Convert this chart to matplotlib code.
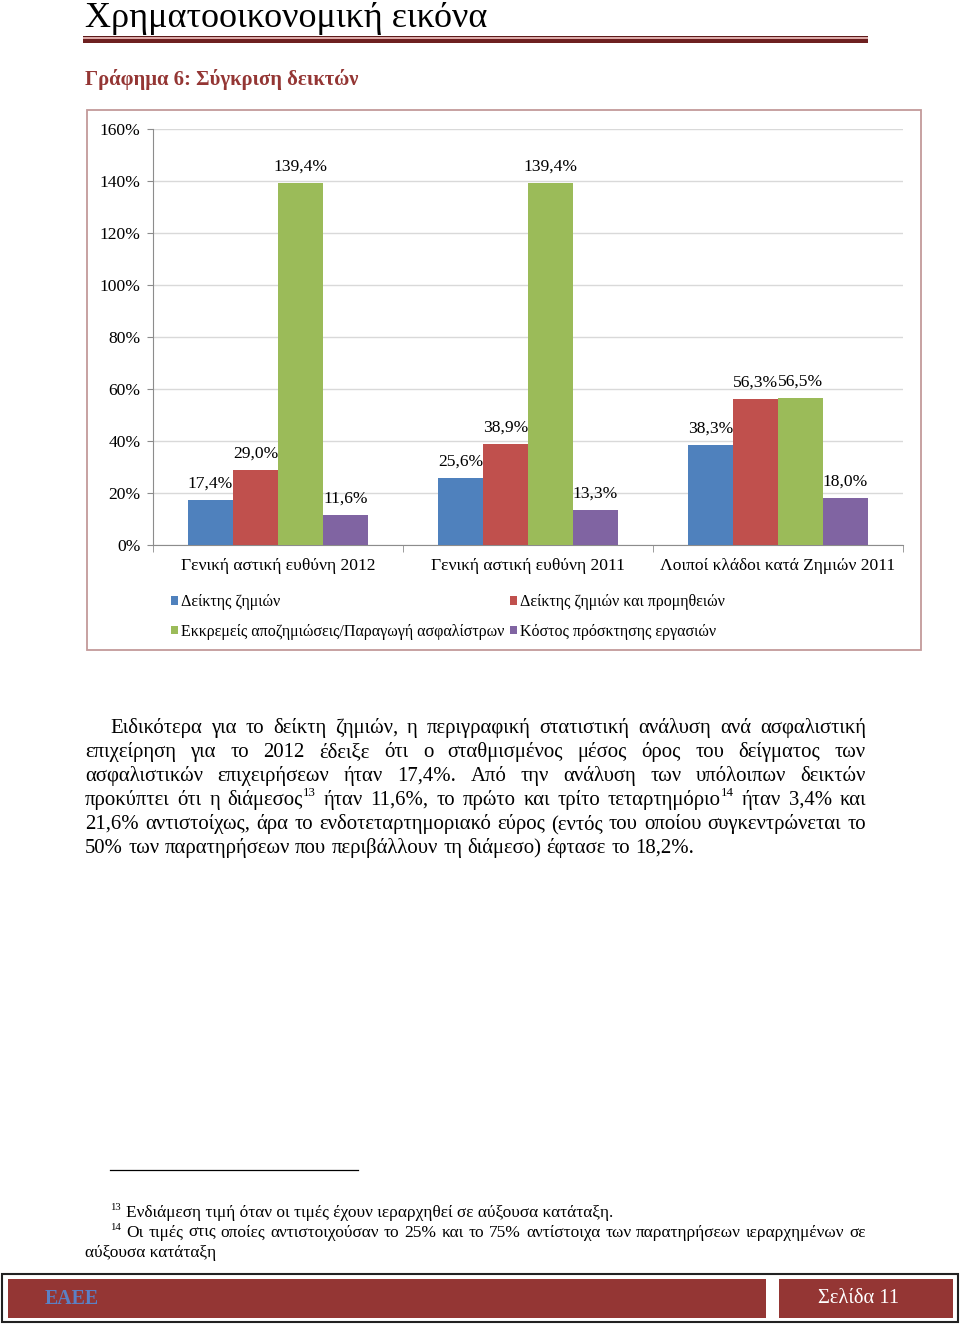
import re
import matplotlib
matplotlib.use('Agg')
import matplotlib.pyplot as plt
from matplotlib.patches import Rectangle

W, H = 960, 1325
SERIF = ['Liberation Serif', 'DejaVu Serif']
plt.rcParams['font.family'] = SERIF

# ---------------- data ----------------
categories = ['Γενική αστική ευθύνη 2012', 'Γενική αστική ευθύνη 2011',
              'Λοιποί κλάδοι κατά Ζημιών 2011']
series_names = ['Δείκτης ζημιών', 'Δείκτης ζημιών και προμηθειών',
                'Εκκρεμείς αποζημιώσεις/Παραγωγή ασφαλίστρων',
                'Κόστος πρόσκτησης εργασιών']
loss_ratio = [17.4, 25.6, 38.3]
loss_comm_ratio = [29.0, 38.9, 56.3]
outstanding_ratio = [139.4, 139.4, 56.5]
acquisition_cost = [11.6, 13.3, 18.0]
series_values = [loss_ratio, loss_comm_ratio, outstanding_ratio, acquisition_cost]
colors = ['#4f81bd', '#c0504d', '#9bbb59', '#8064a2']
yticks = [0, 20, 40, 60, 80, 100, 120, 140, 160]

page_title = 'Χρηματοοικονομική εικόνα'
chart_title = 'Γράφημα 6: Σύγκριση δεικτών'
body_lines = [
    'Ειδικότερα για το δείκτη ζημιών, η περιγραφική στατιστική ανάλυση ανά ασφαλιστική',
    'επιχείρηση για το 2012 έδειξε ότι ο σταθμισμένος μέσος όρος του δείγματος των',
    'ασφαλιστικών επιχειρήσεων ήταν 17,4%. Από την ανάλυση των υπόλοιπων δεικτών',
    'προκύπτει ότι η διάμεσος^{13} ήταν 11,6%, το πρώτο και τρίτο τεταρτημόριο^{14} ήταν 3,4% και',
    '21,6% αντιστοίχως, άρα το ενδοτεταρτημοριακό εύρος (εντός του οποίου συγκεντρώνεται το',
    '50% των παρατηρήσεων που περιβάλλουν τη διάμεσο) έφτασε το 18,2%.',
]
foot1 = 'Ενδιάμεση τιμή όταν οι τιμές έχουν ιεραρχηθεί σε αύξουσα κατάταξη.'
foot2a = 'Οι τιμές στις οποίες αντιστοιχούσαν το 25% και το 75% αντίστοιχα των παρατηρήσεων ιεραρχημένων σε'
foot2b = 'αύξουσα κατάταξη'
footer_left = 'ΕΑΕΕ'
footer_right = 'Σελίδα 11'

MAROON = '#943634'

# ---------------- helpers ----------------
fig = plt.figure(figsize=(W / 100, H / 100), dpi=100)
R = fig.canvas.get_renderer()


def fx(x):
    return x / W


def fy(y):
    return 1 - y / H


def tw(t):
    return t.get_window_extent(R).width


def fit_text(x, y, s, width, **kw):
    t = fig.text(fx(x), fy(y), s, fontsize=10, va='baseline', **kw)
    t.set_fontsize(10 * width / tw(t))
    return t


def measure(s, fs, **kw):
    t = fig.text(0, 0, s, fontsize=fs, **kw)
    w = tw(t)
    t.remove()
    return w


def draw_line(line, x0, x1, yb, fs, justify=True, color='black'):
    words = line.split(' ')
    items = []
    total = 0
    for w in words:
        parts = re.split(r'\^\{(\d+)\}', w)
        segs = []
        for i, p in enumerate(parts):
            if not p:
                continue
            sup = (i % 2 == 1)
            size = fs * 0.62 if sup else fs
            t = fig.text(0, 0, p, fontsize=size, va='baseline', color=color)
            segs.append((t, sup, tw(t)))
        wsum = sum(s[2] for s in segs)
        items.append((segs, wsum))
        total += wsum
    if justify and len(items) > 1:
        gap = (x1 - x0 - total) / (len(items) - 1)
    else:
        gap = measure('a a', fs) - measure('aa', fs)
    x = x0
    raise_px = fs * 0.42 * 100 / 72
    for segs, wsum in items:
        for t, sup, w in segs:
            t.set_position((fx(x), fy(yb - raise_px if sup else yb)))
            x += w
        x += gap


# ---------------- header ----------------
fit_text(85, 27, page_title, 402, color='black')
fig.add_artist(Rectangle((fx(83), fy(37)), fx(868) - fx(83), 1.2 / H,
                         transform=fig.transFigure, color='#5c1a1a', lw=0))
fig.add_artist(Rectangle((fx(83), fy(39)), fx(868) - fx(83), 2 / H,
                         transform=fig.transFigure, color='#dcaaa8', lw=0))
fig.add_artist(Rectangle((fx(83), fy(42.5)), fx(868) - fx(83), 3.5 / H,
                         transform=fig.transFigure, color='#6e2020', lw=0))

fit_text(85, 85, chart_title, 275, color=MAROON, fontweight='bold')

# chart frame
fig.add_artist(Rectangle((fx(87), fy(650)), fx(921) - fx(87), fy(110) - fy(650),
                         transform=fig.transFigure, fill=False,
                         edgecolor='#c39a9a', lw=1.3))

# ---------------- chart ----------------
ax = fig.add_axes([fx(153), fy(545), fx(903) - fx(153), fy(129) - fy(545)])
n = len(categories)
bw = 0.18
offsets = [-1.5 * bw, -0.5 * bw, 0.5 * bw, 1.5 * bw]
bar_groups = []
for vals, c, off, name in zip(series_values, colors, offsets, series_names):
    bars = ax.bar([i + off for i in range(n)], vals, width=bw, color=c,
                  label=name, zorder=3)
    bar_groups.append(bars)
    ax.bar_label(bars, labels=[f'{v:.1f}%'.replace('.', ',') for v in vals],
                 padding=6, fontsize=12.6, color='black')

ax.set_xlim(-0.5, n - 0.5)
ax.set_ylim(0, 160)
ax.set_yticks(yticks, labels=[f'{v}%' for v in yticks])
ax.grid(axis='y', color='#d9d9d9', lw=1, zorder=0)
for s in ['top', 'right']:
    ax.spines[s].set_visible(False)
for s in ['left', 'bottom']:
    ax.spines[s].set_color('#8c8c8c')
ax.tick_params(axis='y', length=4, color='#8c8c8c', pad=5, labelsize=12.6)
ax.set_xticks(range(n), labels=categories)
ax.tick_params(axis='x', which='major', length=0, pad=9.5, labelsize=12.6)
ax.set_xticks([i - 0.5 for i in range(n + 1)], minor=True)
ax.tick_params(axis='x', which='minor', length=5, color='#8c8c8c')

order = [0, 2, 1, 3]
fig.legend([bar_groups[i] for i in order], [series_names[i] for i in order],
           ncol=2, loc='upper left', bbox_to_anchor=(fx(171), fy(594)),
           frameon=False, fontsize=11.5, handlelength=0.45, handleheight=0.45,
           handletextpad=0.2, columnspacing=0.3, labelspacing=0.85,
           borderpad=0, borderaxespad=0)

# ---------------- body text ----------------
base_fs = 10 * 610 / measure(body_lines[-1], 10)
y0 = 733
for i, line in enumerate(body_lines):
    x0 = 110 if i == 0 else 85
    last = (i == len(body_lines) - 1)
    draw_line(line, x0, 866, y0 + 24 * i, base_fs, justify=not last)

# ---------------- footnotes ----------------
fig.add_artist(plt.Line2D([fx(110), fx(358)], [fy(1170), fy(1170)],
                          transform=fig.transFigure, color='black', lw=0.9))
foot_fs = 10 * 487 / measure(foot1, 10)
sup_fs = foot_fs * 0.62
fig.text(fx(110), fy(1210), '13', fontsize=sup_fs, va='baseline')
fig.text(fx(126), fy(1217), foot1, fontsize=foot_fs, va='baseline')
fig.text(fx(110), fy(1230), '14', fontsize=sup_fs, va='baseline')
draw_line(foot2a, 126, 866, 1237, foot_fs, justify=True)
fig.text(fx(85), fy(1257), foot2b, fontsize=foot_fs, va='baseline')

# ---------------- footer ----------------
fig.add_artist(Rectangle((fx(2), fy(1322)), fx(958) - fx(2), fy(1274) - fy(1322),
                         transform=fig.transFigure, facecolor='white',
                         edgecolor='#222222', lw=1.5))
fig.add_artist(Rectangle((fx(8), fy(1318)), fx(766) - fx(8), fy(1279) - fy(1318),
                         transform=fig.transFigure, facecolor=MAROON, lw=0))
fig.add_artist(Rectangle((fx(779), fy(1318)), fx(953) - fx(779), fy(1279) - fy(1318),
                         transform=fig.transFigure, facecolor=MAROON, lw=0))
fit_text(45, 1304, footer_left, 54, color='#5b80c4', fontweight='bold')
fit_text(818, 1303, footer_right, 81, color='white')

fig.savefig('out.png', dpi=100)
